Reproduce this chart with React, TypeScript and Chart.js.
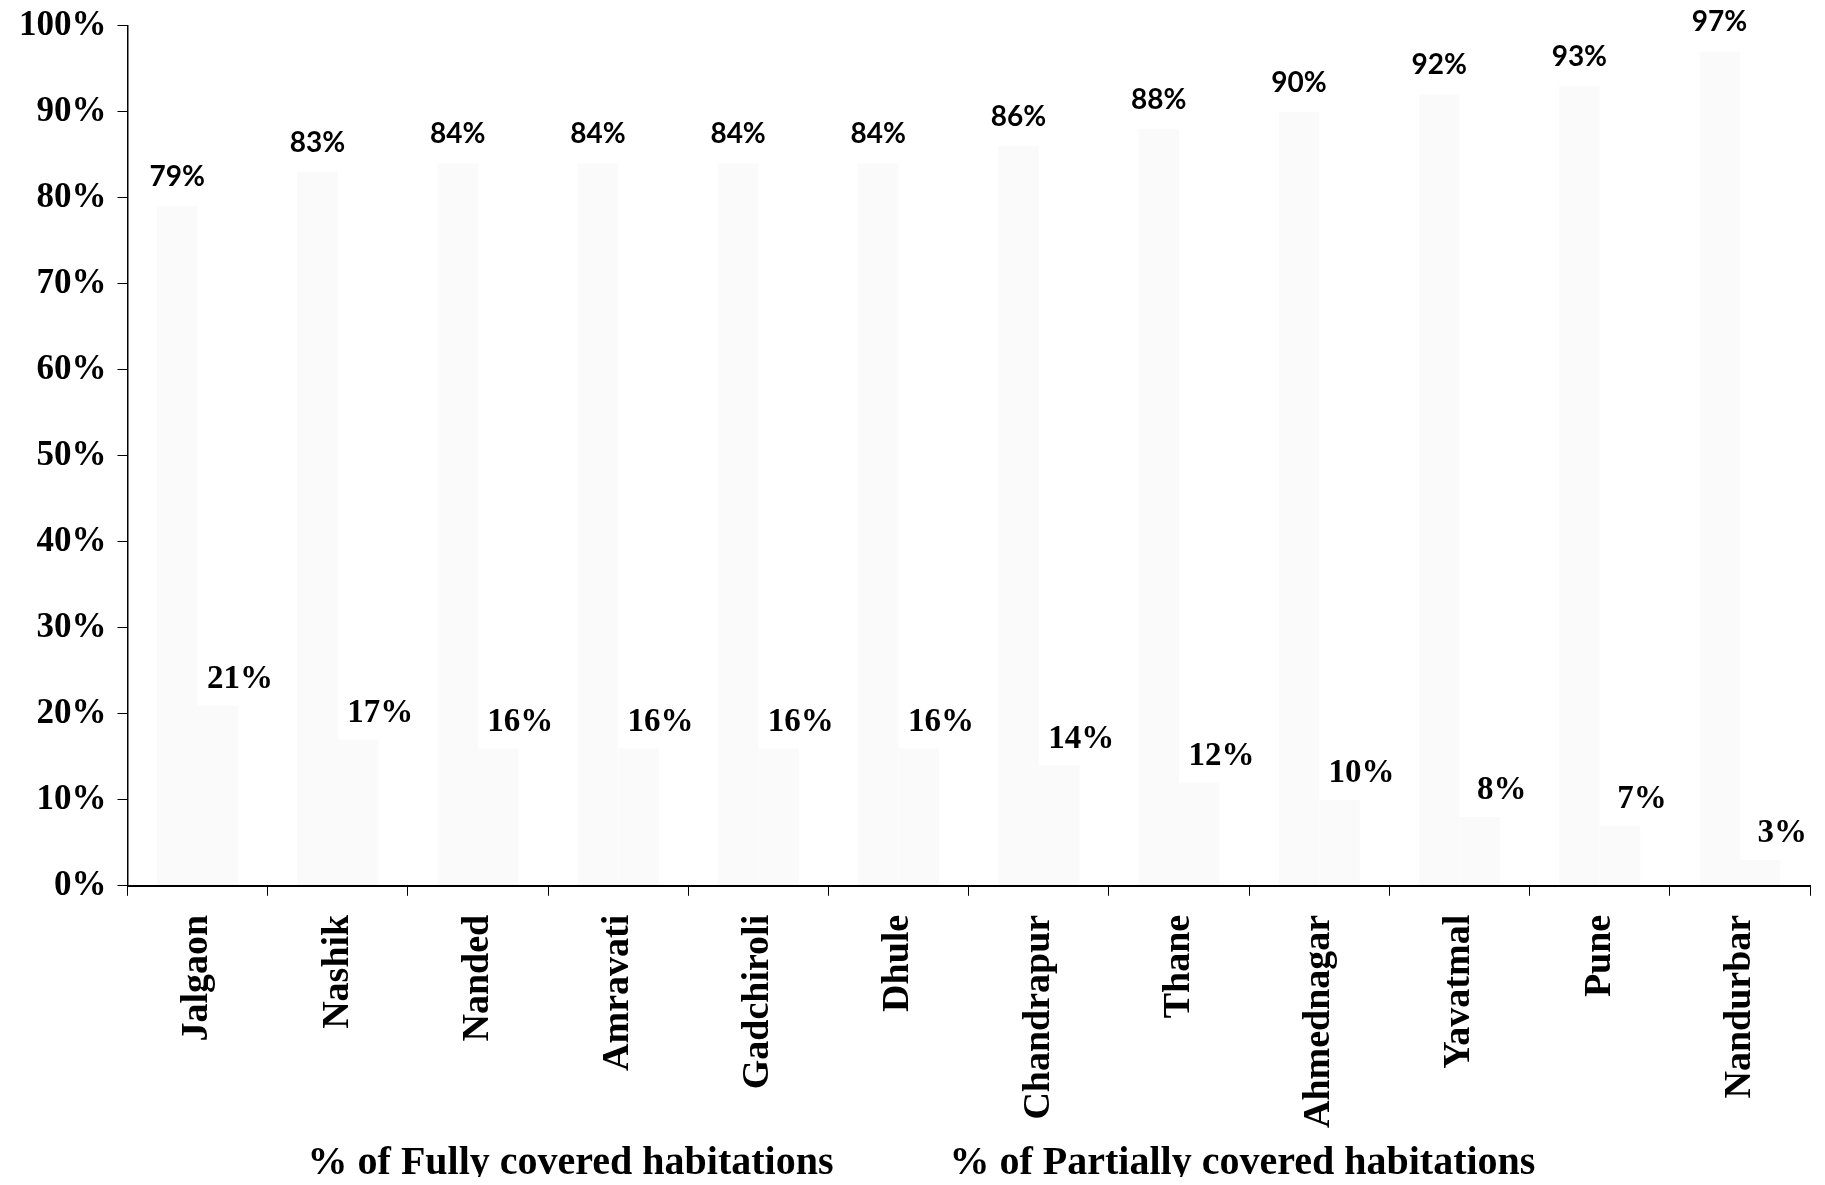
import React, { useEffect, useRef } from "react";
import { Chart, registerables } from "chart.js";

Chart.register(...registerables);

const categories = [
  "Jalgaon", "Nashik", "Nanded", "Amravati", "Gadchiroli", "Dhule",
  "Chandrapur", "Thane", "Ahmednagar", "Yavatmal", "Pune", "Nandurbar",
];
const fullyCovered = [79, 83, 84, 84, 84, 84, 86, 88, 90, 92, 93, 97];
const partiallyCovered = [21, 17, 16, 16, 16, 16, 14, 12, 10, 8, 7, 3];
const seriesNames = [
  "% of Fully covered habitations",
  "% of Partially covered habitations",
];
const yMin = 0;
const yMax = 100;
const yStep = 10;

const labelStyles = [
  { font: "bold 28px Lato, 'Liberation Sans', sans-serif", dx: 0, dy: 29 },
  { font: "bold 33px 'Liberation Serif', serif", dx: 22, dy: 26 },
];

const barLabelPlugin = {
  id: "barLabels",
  afterDatasetsDraw(chart: any) {
    const ctx = chart.ctx;
    chart.data.datasets.forEach((ds: any, di: number) => {
      const meta = chart.getDatasetMeta(di);
      const st = labelStyles[di];
      meta.data.forEach((el: any, i: number) => {
        ctx.save();
        ctx.font = st.font;
        ctx.fillStyle = "#000";
        ctx.textAlign = "center";
        ctx.textBaseline = "middle";
        ctx.fillText(ds.data[i] + "%", el.x + st.dx, el.y - st.dy);
        ctx.restore();
      });
    });
  },
};

const legendPlugin = {
  id: "textLegend",
  afterDraw(chart: any) {
    const ctx = chart.ctx;
    ctx.save();
    ctx.font = "bold 40px 'Liberation Serif', serif";
    ctx.fillStyle = "#000";
    ctx.textBaseline = "middle";
    ctx.textAlign = "left";
    const gap = 116;
    const widths = seriesNames.map((s) => ctx.measureText(s).width);
    const total = widths[0] + gap + widths[1];
    let x = chart.width / 2 + 9 - total / 2;
    const y = chart.height - 13;
    seriesNames.forEach((s, i) => {
      ctx.fillText(s, x, y);
      x += widths[i] + gap;
    });
    ctx.restore();
  },
};

export default function App() {
  const ref = useRef<HTMLCanvasElement>(null);

  useEffect(() => {
    if (!ref.current) return;
    const chart = new Chart(ref.current, {
      type: "bar",
      data: {
        labels: categories,
        datasets: [
          {
            label: seriesNames[0],
            data: fullyCovered,
            backgroundColor: "rgba(0,0,0,0.02)",
            borderWidth: 0,
            categoryPercentage: 0.58,
            barPercentage: 1.0,
          },
          {
            label: seriesNames[1],
            data: partiallyCovered,
            backgroundColor: "rgba(0,0,0,0.02)",
            borderWidth: 0,
            categoryPercentage: 0.58,
            barPercentage: 1.0,
          },
        ],
      },
      options: {
        animation: false,
        responsive: true,
        maintainAspectRatio: false,
        layout: { padding: { left: 0, right: 7, top: 0, bottom: 30 } },
        plugins: {
          legend: { display: false },
          tooltip: { enabled: false },
        },
        scales: {
          x: {
            grid: {
              display: true,
              drawOnChartArea: false,
              drawTicks: true,
              tickLength: 10,
              color: "#000",
              offset: true,
            },
            border: { display: true, color: "#000", width: 2 },
            ticks: {
              autoSkip: false,
              maxRotation: 90,
              minRotation: 90,
              padding: 19,
              color: "#000",
              font: { family: "'Liberation Serif', serif", size: 38, weight: "bold" },
            },
          },
          y: {
            min: yMin,
            max: yMax,
            grid: {
              display: true,
              drawOnChartArea: false,
              drawTicks: true,
              tickLength: 10,
              color: "#000",
            },
            border: { display: true, color: "#000", width: 1.5 },
            ticks: {
              stepSize: yStep,
              padding: 11,
              color: "#000",
              font: { family: "'Liberation Serif', serif", size: 35, weight: "bold", lineHeight: 0.38 },
              callback: (v: any) => v + "%",
            },
          },
        },
      },
      plugins: [barLabelPlugin, legendPlugin],
    });
    return () => chart.destroy();
  }, []);

  return (
    <div style={{ position: "relative", width: "100%", height: "1169px", background: "#fff" }}>
      <canvas ref={ref} />
    </div>
  );
}
